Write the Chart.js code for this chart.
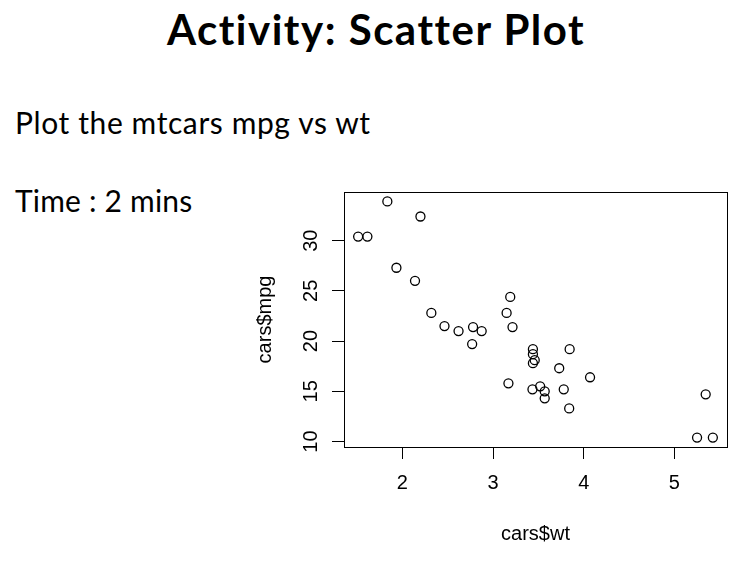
<!DOCTYPE html>
<html>
<head>
<meta charset="utf-8">
<script src="https://cdn.jsdelivr.net/npm/chart.js@4.4.1/dist/chart.umd.min.js"></script>
<style>
  html, body { margin: 0; padding: 0; background: #fff; }
  #slide { position: relative; width: 743px; height: 571px; overflow: hidden; font-family: "Lato", "Noto Sans", sans-serif; color: #000; }
  .txt { position: absolute; white-space: nowrap; line-height: 1; }
  #title { top: 8px; left: 0; width: 752px; text-align: center; font-size: 42px; font-weight: bold; letter-spacing: 1.5px; }
  #task { top: 107px; left: 15px; font-size: 30px; letter-spacing: 0.6px; }
  #time { top: 185px; left: 15px; font-size: 30px; letter-spacing: 0.2px; }
  #plot { position: absolute; left: 0; top: 0; }
</style>
</head>
<body>
<div id="slide">
  <div class="txt" id="title">Activity: Scatter Plot</div>
  <div class="txt" id="task">Plot the mtcars mpg vs wt</div>
  <div class="txt" id="time">Time : 2 mins</div>
  <canvas id="plot" width="743" height="571"></canvas>
</div>
<script>
// mtcars: wt (1000 lbs) and mpg, one entry per car
const wtValues = [2.620, 2.875, 2.320, 3.215, 3.440, 3.460, 3.570, 3.190,
  3.150, 3.440, 3.440, 4.070, 3.730, 3.780, 5.250, 5.424,
  5.345, 2.200, 1.615, 1.835, 2.465, 3.520, 3.435, 3.840,
  3.845, 1.935, 2.140, 1.513, 3.170, 2.770, 3.570, 2.780];
const mpgValues = [21.0, 21.0, 22.8, 21.4, 18.7, 18.1, 14.3, 24.4,
  22.8, 19.2, 17.8, 16.4, 17.3, 15.2, 10.4, 10.4,
  14.7, 32.4, 30.4, 33.9, 21.5, 15.5, 15.2, 13.3,
  19.2, 27.3, 26.0, 30.4, 15.8, 19.7, 15.0, 21.4];

const xTicks = [2, 3, 4, 5];
const yTicks = [10, 15, 20, 25, 30];
const xRange = [1.357, 5.580];
const yRange = [9.46, 34.84];

const AXIS_FONT = { family: '"Liberation Sans", Arial, sans-serif', size: 20 };

const boxPlugin = {
  id: 'box',
  afterDraw(chart) {
    const a = chart.chartArea;
    const ctx = chart.ctx;
    ctx.save();
    ctx.strokeStyle = '#000';
    ctx.lineWidth = 1;
    ctx.strokeRect(Math.round(a.left) + 0.5, Math.round(a.top) + 0.5,
      Math.round(a.right - a.left), Math.round(a.bottom - a.top));
    ctx.restore();
  }
};

const points = wtValues.map((w, i) => ({ x: w, y: mpgValues[i] }));

new Chart('plot', {
  type: 'scatter',
  data: {
    datasets: [{
      data: points,
      pointStyle: 'circle',
      pointRadius: 4.5,
      pointHoverRadius: 4.5,
      borderWidth: 1.3,
      borderColor: '#000',
      backgroundColor: 'rgba(0,0,0,0)'
    }]
  },
  options: {
    responsive: false,
    animation: false,
    events: [],
    layout: { padding: { left: 253, right: 16, top: 192, bottom: 23 } },
    plugins: { legend: { display: false }, tooltip: { enabled: false } },
    scales: {
      x: {
        type: 'linear',
        min: xRange[0],
        max: xRange[1],
        afterBuildTicks: axis => { axis.ticks = xTicks.map(v => ({ value: v })); },
        afterFit: axis => { axis.height = 101; },
        grid: { display: true, drawOnChartArea: false, drawTicks: true, tickLength: 12, color: '#000', lineWidth: 1 },
        border: { display: false },
        ticks: { color: '#000', font: AXIS_FONT, padding: 12, maxRotation: 0, autoSkip: false },
        title: { display: true, text: 'cars$wt', color: '#000', font: AXIS_FONT, padding: { top: 0, bottom: 2 } }
      },
      y: {
        type: 'linear',
        min: yRange[0],
        max: yRange[1],
        afterBuildTicks: axis => { axis.ticks = yTicks.map(v => ({ value: v })); },
        afterFit: axis => { axis.width = 91; },
        grid: { display: true, drawOnChartArea: false, drawTicks: true, tickLength: 12, color: '#000', lineWidth: 1 },
        border: { display: false },
        ticks: { color: '#000', font: AXIS_FONT, padding: 9, minRotation: 90, maxRotation: 90, crossAlign: 'center', autoSkip: false },
        title: { display: true, text: 'cars$mpg', color: '#000', font: AXIS_FONT, padding: { top: 0, bottom: 0 } }
      }
    }
  },
  plugins: [boxPlugin]
});
</script>
</body>
</html>
